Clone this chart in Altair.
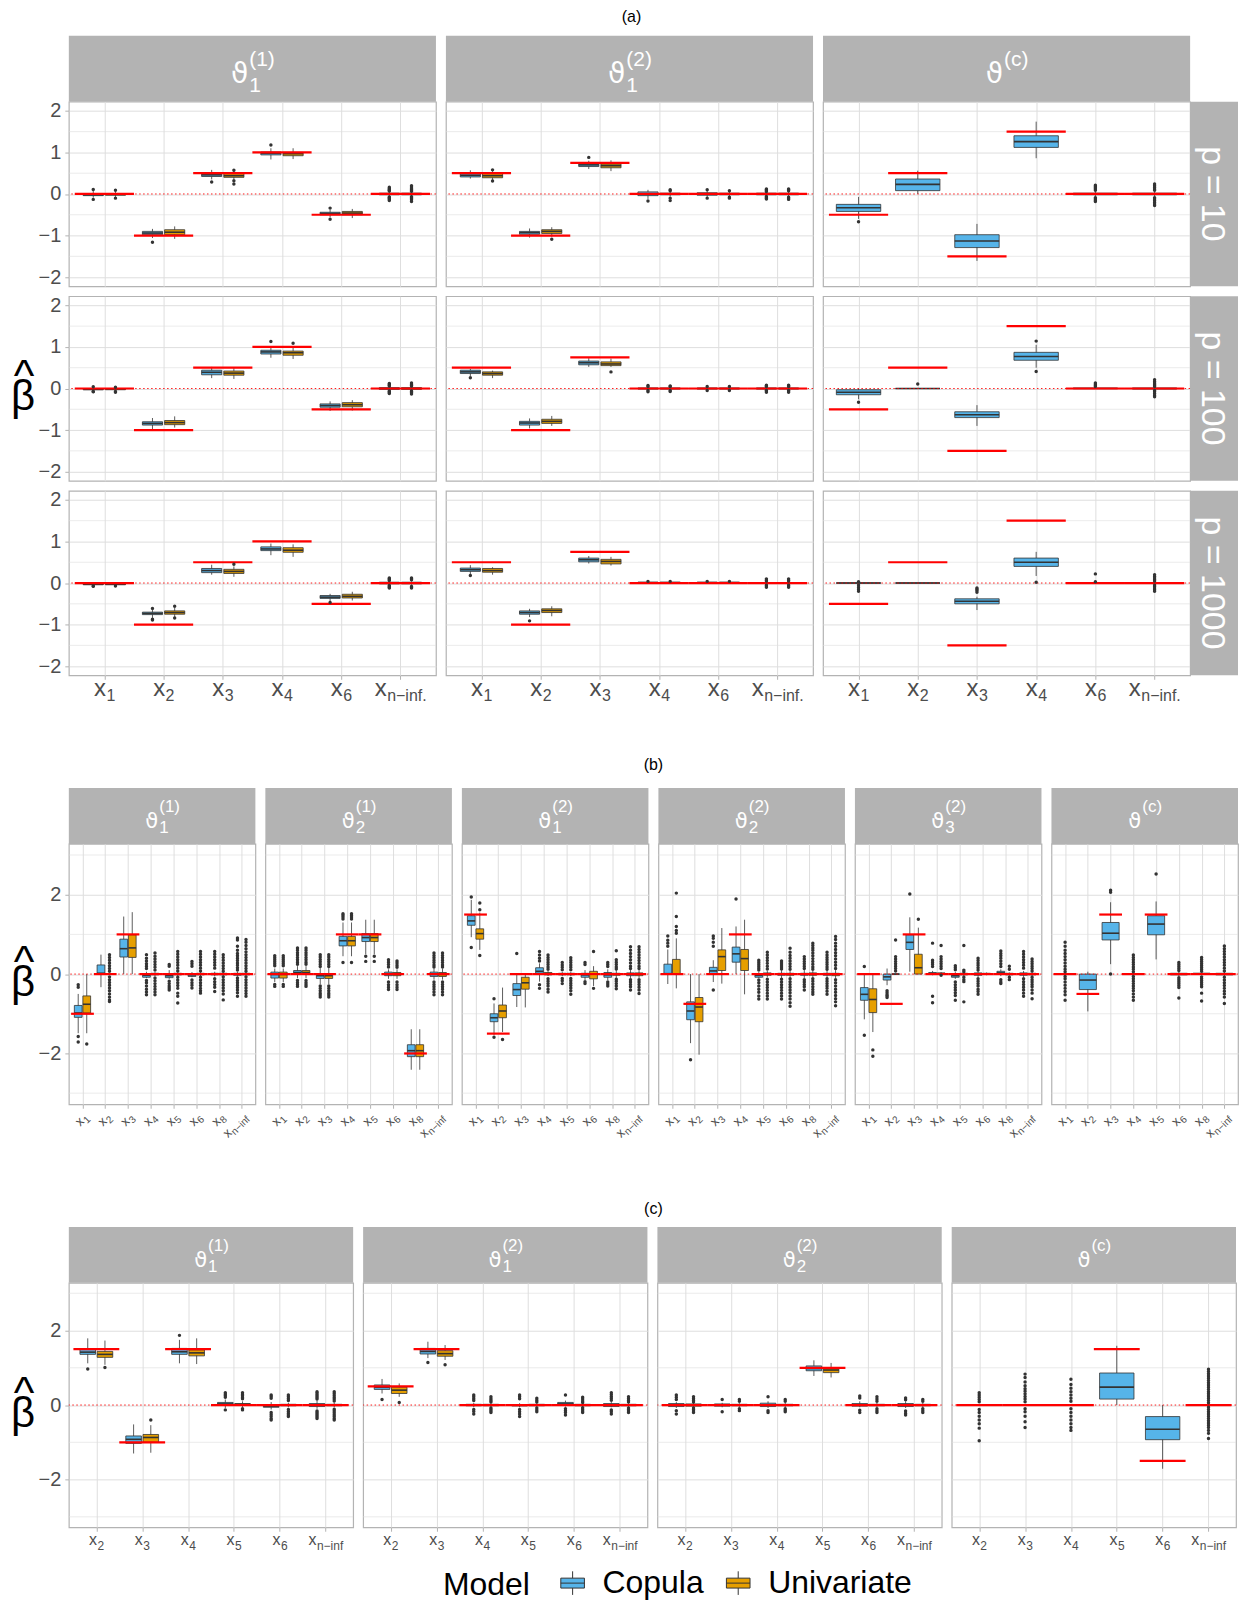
import altair as alt
import pandas as pd

FONT = "Liberation Sans"
MODELS = ["Copula", "Univariate"]
MODEL_COLORS = ["#56B4E9", "#E69F00"]

# ---------------------------------------------------------------- (a)
A_VARS = ["1", "2", "3", "4", "6", "n−inf."]
A_FACETS = [("1", "(1)"), ("1", "(2)"), ("", "(c)")]
A_ROWS = ["p = 10", "p = 100", "p = 1000"]
A_TRUE = [
    [0, -1, 0.5, 1, -0.5, 0],
    [0.5, -1, 0.75, 0, 0, 0],
    [-0.5, 0.5, -1.5, 1.5, 0, 0],
]
# (lower whisker, Q1, median, Q3, upper whisker, outliers) per covariate
A_BOXES = {
    ("p = 10", 0, "Copula"): [
        (-0.09, -0.04, -0.02, 0.01, 0.07, [0.11, -0.13]),
        (-1.06, -0.98, -0.94, -0.90, -0.84, [-1.16]),
        (0.35, 0.42, 0.46, 0.50, 0.58, [0.29]),
        (0.83, 0.94, 0.98, 1.01, 1.10, [1.18]),
        (-0.56, -0.50, -0.47, -0.44, -0.38, [-0.34, -0.61]),
        (-0.05, -0.02, 0.00, 0.02, 0.05, [0.16, 0.13, 0.11, 0.09, 0.07, -0.07, -0.09, -0.11, -0.13, -0.16]),
    ],
    ("p = 10", 0, "Univariate"): [
        (-0.07, -0.03, -0.01, 0.01, 0.06, [0.09, -0.10]),
        (-1.08, -0.98, -0.92, -0.86, -0.78, []),
        (0.36, 0.40, 0.44, 0.49, 0.55, [0.57, 0.32, 0.24]),
        (0.84, 0.92, 0.97, 1.00, 1.10, []),
        (-0.58, -0.50, -0.46, -0.42, -0.36, []),
        (-0.05, -0.02, 0.00, 0.02, 0.05, [0.20, 0.17, 0.14, 0.11, 0.08, 0.065, -0.065, -0.08, -0.11, -0.14, -0.18]),
    ],
    ("p = 10", 1, "Copula"): [
        (0.37, 0.41, 0.45, 0.49, 0.57, []),
        (-1.05, -0.97, -0.93, -0.90, -0.83, []),
        (0.60, 0.66, 0.70, 0.74, 0.80, [0.88]),
        (-0.12, -0.04, 0.00, 0.05, 0.10, [-0.17]),
        (-0.07, -0.03, 0.00, 0.03, 0.07, [0.10, -0.10]),
        (-0.05, -0.02, 0.00, 0.02, 0.05, [0.12, 0.10, 0.08, 0.06, -0.06, -0.08, -0.10, -0.12]),
    ],
    ("p = 10", 1, "Univariate"): [
        (0.33, 0.39, 0.44, 0.49, 0.55, [0.58, 0.31]),
        (-1.03, -0.95, -0.90, -0.86, -0.80, [-1.09]),
        (0.55, 0.63, 0.68, 0.72, 0.81, []),
        (-0.06, -0.02, 0.00, 0.02, 0.06, [0.10, 0.08, -0.10, -0.16]),
        (-0.06, -0.02, 0.00, 0.02, 0.06, [0.08, -0.08, -0.10]),
        (-0.05, -0.02, 0.00, 0.02, 0.05, [0.12, 0.10, 0.08, -0.08, -0.10, -0.13]),
    ],
    ("p = 10", 2, "Copula"): [
        (-0.60, -0.42, -0.33, -0.25, -0.07, [-0.67]),
        (0.00, 0.08, 0.23, 0.36, 0.56, []),
        (-1.61, -1.29, -1.13, -0.98, -0.72, []),
        (0.86, 1.12, 1.26, 1.40, 1.74, []),
        (-0.06, -0.02, 0.00, 0.02, 0.06, [0.21, 0.18, 0.15, 0.12, 0.09, -0.09, -0.12, -0.15, -0.18]),
        (-0.06, -0.02, 0.00, 0.02, 0.06, [0.24, 0.20, 0.16, 0.12, 0.09, -0.09, -0.12, -0.16, -0.20, -0.24, -0.28]),
    ],
    ("p = 100", 0, "Copula"): [
        (-0.05, -0.03, -0.02, 0.00, 0.02, [0.04, -0.07, -0.08]),
        (-0.98, -0.88, -0.84, -0.80, -0.71, []),
        (0.25, 0.33, 0.39, 0.44, 0.52, []),
        (0.74, 0.83, 0.88, 0.92, 1.02, [1.13]),
        (-0.54, -0.45, -0.41, -0.37, -0.31, []),
        (-0.04, -0.02, 0.00, 0.02, 0.04, [0.12, 0.10, 0.08, 0.06, -0.06, -0.08, -0.10, -0.12]),
    ],
    ("p = 100", 0, "Univariate"): [
        (-0.05, -0.03, -0.01, 0.00, 0.02, [0.03, -0.07, -0.09]),
        (-0.94, -0.87, -0.82, -0.77, -0.67, []),
        (0.23, 0.32, 0.37, 0.42, 0.49, []),
        (0.71, 0.80, 0.86, 0.90, 1.00, [1.09]),
        (-0.53, -0.44, -0.39, -0.34, -0.28, []),
        (-0.04, -0.02, 0.00, 0.02, 0.04, [0.13, 0.10, 0.08, 0.06, -0.06, -0.08, -0.10, -0.13]),
    ],
    ("p = 100", 1, "Copula"): [
        (0.30, 0.36, 0.40, 0.44, 0.47, [0.26]),
        (-0.96, -0.88, -0.83, -0.79, -0.72, []),
        (0.52, 0.57, 0.62, 0.66, 0.73, []),
        (-0.03, -0.01, 0.00, 0.01, 0.03, [0.07, 0.05, -0.05, -0.08]),
        (-0.03, -0.01, 0.00, 0.01, 0.03, [0.05, -0.05]),
        (-0.03, -0.01, 0.00, 0.01, 0.03, [0.08, 0.06, 0.05, -0.05, -0.06, -0.09]),
    ],
    ("p = 100", 1, "Univariate"): [
        (0.25, 0.32, 0.36, 0.40, 0.43, []),
        (-0.90, -0.84, -0.79, -0.74, -0.66, []),
        (0.52, 0.55, 0.59, 0.64, 0.72, [0.40]),
        (-0.03, -0.01, 0.00, 0.01, 0.03, [0.06, 0.05, -0.05, -0.07]),
        (-0.03, -0.01, 0.00, 0.01, 0.03, [0.05, -0.05]),
        (-0.03, -0.01, 0.00, 0.01, 0.03, [0.08, 0.06, 0.05, -0.05, -0.06, -0.09]),
    ],
    ("p = 100", 2, "Copula"): [
        (-0.26, -0.15, -0.09, -0.03, 0.00, [-0.33]),
        (0.00, 0.00, 0.00, 0.00, 0.00, [0.11]),
        (-0.90, -0.70, -0.63, -0.56, -0.40, []),
        (0.50, 0.68, 0.77, 0.87, 1.05, [1.14, 0.41]),
        (0.00, 0.00, 0.00, 0.01, 0.03, [0.13, 0.10, 0.07, 0.05]),
        (-0.03, -0.01, 0.00, 0.01, 0.03, [0.21, 0.17, 0.13, 0.10, 0.07, 0.05, -0.05, -0.08, -0.12, -0.16, -0.20]),
    ],
    ("p = 1000", 0, "Copula"): [
        (-0.05, -0.04, -0.03, -0.02, 0.00, [-0.07, -0.08]),
        (-0.84, -0.76, -0.73, -0.70, -0.64, [-0.61, -0.87, -0.89]),
        (0.20, 0.25, 0.30, 0.35, 0.44, []),
        (0.67, 0.78, 0.82, 0.87, 0.95, []),
        (-0.44, -0.37, -0.34, -0.30, -0.26, [-0.47]),
        (-0.04, -0.02, 0.00, 0.02, 0.04, [0.12, 0.10, 0.08, 0.06, -0.06, -0.08, -0.10, -0.12]),
    ],
    ("p = 1000", 0, "Univariate"): [
        (-0.05, -0.04, -0.03, -0.02, 0.00, [-0.07]),
        (-0.82, -0.75, -0.71, -0.67, -0.60, [-0.56, -0.84]),
        (0.15, 0.23, 0.28, 0.33, 0.40, [0.45]),
        (0.63, 0.74, 0.79, 0.85, 0.93, []),
        (-0.42, -0.36, -0.32, -0.27, -0.21, []),
        (-0.04, -0.02, 0.00, 0.02, 0.04, [0.12, 0.10, 0.08, -0.08, -0.10, -0.12]),
    ],
    ("p = 1000", 1, "Copula"): [
        (0.20, 0.28, 0.32, 0.36, 0.43, [0.18]),
        (-0.82, -0.75, -0.71, -0.67, -0.62, [-0.91]),
        (0.47, 0.51, 0.56, 0.60, 0.65, []),
        (0.00, 0.00, 0.01, 0.02, 0.03, [0.04]),
        (0.00, 0.00, 0.01, 0.02, 0.03, [0.04]),
        (-0.03, -0.01, 0.00, 0.01, 0.03, [0.10, 0.07, 0.05, -0.05, -0.07, -0.10]),
    ],
    ("p = 1000", 1, "Univariate"): [
        (0.20, 0.26, 0.30, 0.35, 0.38, []),
        (-0.80, -0.71, -0.66, -0.62, -0.56, []),
        (0.42, 0.46, 0.52, 0.57, 0.63, []),
        (0.00, 0.00, 0.01, 0.02, 0.03, [0.04]),
        (0.00, 0.00, 0.01, 0.02, 0.03, [0.04]),
        (-0.03, -0.01, 0.00, 0.01, 0.03, [0.10, 0.07, 0.05, -0.05, -0.07, -0.10]),
    ],
    ("p = 1000", 2, "Copula"): [
        (0.00, 0.00, 0.00, 0.00, 0.00, [0.03, -0.05, -0.10, -0.15, -0.20]),
        (0.00, 0.00, 0.00, 0.00, 0.00, []),
        (-0.65, -0.50, -0.44, -0.38, -0.33, [-0.12, -0.15, -0.18, -0.22]),
        (0.17, 0.40, 0.50, 0.60, 0.75, [0.02]),
        (0.00, 0.00, 0.00, 0.00, 0.00, [0.22, 0.03]),
        (-0.03, -0.01, 0.00, 0.01, 0.03, [0.20, 0.16, 0.12, 0.08, 0.05, -0.05, -0.08, -0.12, -0.16, -0.20]),
    ],
}

# ---------------------------------------------------------------- (b)
B_VARS = ["1", "2", "3", "4", "5", "6", "8", "n−inf"]
B_FACETS = [("1", "(1)"), ("2", "(1)"), ("1", "(2)"), ("2", "(2)"), ("3", "(2)"), ("", "(c)")]
B_TRUE = [
    [-1, 0, 1, 0, 0, 0, 0, 0],
    [0, 0, 0, 1, 1, 0, -2, 0],
    [1.5, -1.5, 0, 0, 0, 0, 0, 0],
    [0, -0.75, 0, 1, 0, 0, 0, 0],
    [0, -0.75, 1, 0, 0, 0, 0, 0],
    [0, -0.5, 1.5, 0, 1.5, 0, 0, 0],
]
B_BOXES = {
    (0, "Copula"): [
        (-1.49, -1.09, -0.98, -0.79, -0.50, [-0.27, -0.33, -1.57, -1.71]),
        (-0.33, 0.00, 0.02, 0.23, 0.49, []),
        (0.00, 0.43, 0.64, 0.88, 1.45, []),
        (-0.10, -0.08, -0.03, 0.00, 0.06, [0.49, 0.40, 0.33, 0.26, 0.20, 0.14, -0.16, -0.22, -0.30, -0.38, -0.45, -0.52]),
        (-0.12, -0.09, -0.04, 0.00, 0.10, [0.24, 0.20, -0.18, -0.24, -0.30, -0.35, -0.40]),
        (-0.08, -0.06, -0.02, 0.00, 0.05, [0.32, 0.26, 0.20, -0.15, -0.22, -0.28, -0.35]),
        (-0.06, -0.02, 0.00, 0.02, 0.06, [0.57, 0.50, 0.43, 0.36, 0.29, 0.22, 0.15, -0.12, -0.19, -0.26, -0.33, -0.44]),
        (-0.06, -0.03, 0.00, 0.02, 0.06, [0.91, 0.86, 0.70, 0.60, 0.52, 0.46, 0.40, 0.34, 0.28, 0.22, 0.16, 0.10, -0.10, -0.16, -0.22, -0.28, -0.34, -0.40, -0.47, -0.56]),
    ],
    (0, "Univariate"): [
        (-1.49, -0.98, -0.76, -0.55, 0.00, [-1.76]),
        (0.00, 0.00, 0.00, 0.00, 0.00, [0.49, 0.42, 0.35, 0.28, 0.21, 0.14, 0.07, -0.07, -0.14, -0.21, -0.28, -0.35, -0.42, -0.50, -0.58, -0.65, -0.69]),
        (0.00, 0.42, 0.66, 0.99, 1.56, []),
        (-0.05, -0.02, 0.00, 0.02, 0.05, [0.53, 0.45, 0.38, 0.31, 0.24, 0.17, 0.10, -0.10, -0.17, -0.24, -0.31, -0.38, -0.45, -0.52]),
        (-0.05, -0.02, 0.00, 0.02, 0.05, [0.57, 0.50, 0.43, 0.36, 0.29, 0.22, 0.15, 0.08, -0.08, -0.15, -0.22, -0.29, -0.36, -0.48, -0.56, -0.73]),
        (-0.05, -0.02, 0.00, 0.02, 0.05, [0.57, 0.50, 0.43, 0.36, 0.29, 0.22, 0.15, 0.08, -0.08, -0.15, -0.22, -0.29, -0.36, -0.42, -0.48]),
        (-0.05, -0.02, 0.00, 0.02, 0.05, [0.49, 0.42, 0.35, 0.28, 0.21, 0.14, 0.07, -0.07, -0.14, -0.21, -0.28, -0.35, -0.42, -0.50, -0.65]),
        (-0.05, -0.02, 0.00, 0.02, 0.05, [0.87, 0.80, 0.72, 0.64, 0.56, 0.49, 0.42, 0.35, 0.28, 0.21, 0.14, 0.07, -0.07, -0.14, -0.21, -0.28, -0.35, -0.42, -0.49, -0.56]),
    ],
    (1, "Copula"): [
        (-0.20, -0.10, -0.01, 0.05, 0.14, [0.46, 0.41, 0.36, 0.31, 0.26, 0.21, -0.26, -0.31]),
        (-0.10, 0.00, 0.04, 0.09, 0.20, [0.66, 0.60, 0.54, 0.48, 0.42, 0.36, 0.30, 0.25, -0.16, -0.22, -0.27, -0.31]),
        (-0.25, -0.11, -0.04, 0.00, 0.15, [0.49, 0.43, 0.37, 0.31, 0.25, 0.19, -0.30, -0.36, -0.42, -0.48, -0.53, -0.58]),
        (0.45, 0.71, 0.84, 0.95, 1.30, [1.52, 1.48, 1.44, 1.39, 0.29]),
        (0.50, 0.82, 0.92, 1.02, 1.37, [0.32, 0.45]),
        (-0.12, -0.04, 0.00, 0.05, 0.12, [0.36, 0.30, 0.24, 0.18, -0.20, -0.27, -0.33, -0.39]),
        (-2.41, -2.08, -1.93, -1.78, -1.39, []),
        (-0.14, -0.06, -0.01, 0.05, 0.14, [0.53, 0.47, 0.41, 0.35, 0.29, 0.23, 0.18, -0.20, -0.26, -0.32, -0.38, -0.45, -0.52]),
    ],
    (1, "Univariate"): [
        (-0.20, -0.10, -0.01, 0.05, 0.14, [0.46, 0.41, 0.36, 0.31, 0.26, 0.21, -0.26, -0.31]),
        (-0.10, 0.00, 0.04, 0.09, 0.20, [0.66, 0.60, 0.54, 0.48, 0.42, 0.36, 0.30, 0.25, -0.16, -0.22, -0.27, -0.31]),
        (-0.25, -0.11, -0.04, 0.00, 0.15, [0.49, 0.43, 0.37, 0.31, 0.25, 0.19, -0.30, -0.36, -0.42, -0.48, -0.53, -0.58]),
        (0.45, 0.71, 0.84, 0.95, 1.30, [1.52, 1.48, 1.44, 1.39, 0.29]),
        (0.50, 0.82, 0.92, 1.02, 1.37, [0.32, 0.45]),
        (-0.12, -0.04, 0.00, 0.04, 0.12, [0.33, 0.28, 0.22, 0.17, -0.20, -0.27, -0.33, -0.39]),
        (-2.41, -2.08, -1.93, -1.78, -1.39, []),
        (-0.14, -0.06, -0.01, 0.04, 0.14, [0.53, 0.47, 0.41, 0.35, 0.29, 0.23, 0.18, -0.20, -0.26, -0.32, -0.38, -0.45, -0.52]),
    ],
    (2, "Copula"): [
        (0.93, 1.23, 1.34, 1.47, 1.87, [1.94, 0.67]),
        (-1.54, -1.20, -1.10, -1.00, -0.74, [-0.62, -1.59]),
        (-0.83, -0.54, -0.39, -0.24, 0.00, [0.52]),
        (-0.19, 0.02, 0.07, 0.16, 0.27, [0.57, 0.48, 0.40, 0.33, -0.27, -0.36]),
        (-0.05, -0.02, 0.00, 0.02, 0.05, [0.29, 0.23, 0.17, 0.11, -0.11, -0.17, -0.24]),
        (-0.15, -0.08, -0.02, 0.02, 0.10, [0.29, 0.24, -0.19, -0.24]),
        (-0.15, -0.08, -0.02, 0.04, 0.12, [0.29, 0.24, 0.19, -0.20, -0.25, -0.30]),
        (-0.10, -0.04, 0.00, 0.03, 0.10, [0.69, 0.60, 0.52, 0.44, 0.36, 0.28, 0.20, 0.14, -0.14, -0.20, -0.26, -0.32, -0.40]),
    ],
    (2, "Univariate"): [
        (0.61, 0.88, 1.02, 1.14, 1.55, [1.79, 1.62, 0.47]),
        (-1.46, -1.10, -0.93, -0.78, -0.34, [-1.65]),
        (-0.84, -0.38, -0.22, -0.08, 0.00, []),
        (-0.05, -0.02, 0.00, 0.04, 0.08, [0.48, 0.42, 0.36, 0.30, 0.24, 0.18, 0.12, -0.12, -0.18, -0.24, -0.30, -0.38, -0.45]),
        (-0.05, -0.02, 0.00, 0.02, 0.05, [0.41, 0.35, 0.29, 0.23, 0.17, 0.11, -0.11, -0.17, -0.23, -0.29, -0.35, -0.42, -0.51]),
        (-0.30, -0.12, 0.00, 0.07, 0.20, [0.57, -0.36]),
        (-0.10, -0.03, 0.00, 0.02, 0.10, [0.59, 0.36, 0.30, 0.24, 0.18, 0.13, -0.13, -0.18, -0.24, -0.30, -0.37]),
        (-0.10, -0.04, 0.00, 0.03, 0.10, [0.69, 0.62, 0.55, 0.48, 0.41, 0.34, 0.27, 0.20, 0.14, -0.14, -0.20, -0.26, -0.33, -0.40, -0.49]),
    ],
    (3, "Copula"): [
        (-0.25, 0.00, 0.01, 0.25, 0.62, [0.96, 0.85, 0.78, 0.70]),
        (-1.74, -1.15, -0.93, -0.70, 0.00, [-2.16]),
        (-0.20, 0.00, 0.08, 0.17, 0.35, [0.96, 0.90, 0.80, 0.70, -0.40]),
        (0.00, 0.30, 0.51, 0.68, 1.20, [1.89]),
        (-0.10, -0.08, -0.03, 0.00, 0.05, [0.35, 0.30, 0.25, 0.20, 0.15, 0.10, -0.15, -0.22, -0.30, -0.38, -0.46, -0.55, -0.63]),
        (-0.10, -0.03, 0.00, 0.02, 0.10, [0.33, 0.28, 0.23, 0.18, 0.13, -0.13, -0.20, -0.27, -0.34, -0.41, -0.48, -0.55, -0.63]),
        (-0.10, -0.03, 0.00, 0.02, 0.10, [0.44, 0.38, 0.32, 0.26, 0.20, 0.14, -0.14, -0.20, -0.26, -0.32, -0.40]),
        (-0.10, -0.03, 0.00, 0.02, 0.10, [0.55, 0.48, 0.42, 0.36, 0.30, 0.24, 0.18, 0.12, -0.12, -0.18, -0.24, -0.30, -0.36, -0.43, -0.51]),
    ],
    (3, "Univariate"): [
        (-0.36, 0.00, 0.00, 0.37, 0.90, [2.04, 1.45, 1.20, 1.10, 1.03]),
        (-2.03, -1.20, -0.83, -0.59, 0.00, []),
        (-0.24, 0.09, 0.44, 0.61, 1.16, []),
        (-0.51, 0.09, 0.39, 0.62, 1.37, []),
        (-0.08, -0.03, 0.00, 0.03, 0.08, [0.55, 0.48, 0.41, 0.34, 0.27, 0.20, 0.13, -0.13, -0.20, -0.27, -0.34, -0.41, -0.48, -0.55, -0.63]),
        (-0.08, -0.03, 0.00, 0.02, 0.08, [0.65, 0.55, 0.47, 0.40, 0.33, 0.26, 0.19, 0.12, -0.12, -0.19, -0.26, -0.33, -0.40, -0.47, -0.55, -0.63, -0.72, -0.81]),
        (-0.08, -0.03, 0.00, 0.03, 0.08, [0.78, 0.72, 0.66, 0.60, 0.53, 0.46, 0.39, 0.32, 0.25, 0.18, 0.12, -0.12, -0.18, -0.25, -0.32, -0.39, -0.45, -0.51]),
        (-0.10, -0.04, 0.00, 0.02, 0.10, [0.95, 0.87, 0.78, 0.70, 0.62, 0.54, 0.46, 0.38, 0.30, 0.22, 0.14, -0.14, -0.22, -0.30, -0.38, -0.46, -0.54, -0.62, -0.70, -0.80]),
    ],
    (4, "Copula"): [
        (-1.14, -0.66, -0.51, -0.34, 0.00, [0.19, -1.54]),
        (-0.28, -0.15, -0.07, 0.00, 0.14, [-0.42, -0.47, -0.52, -0.55, -0.59]),
        (0.06, 0.62, 0.80, 0.99, 1.43, [2.02]),
        (-0.03, 0.00, 0.01, 0.04, 0.08, [0.78, 0.35, 0.30, 0.25, 0.19, -0.56, -0.72]),
        (-0.12, -0.08, -0.04, 0.00, 0.05, [0.21, 0.16, 0.11, -0.20, -0.27, -0.34, -0.40, -0.47, -0.54, -0.66]),
        (-0.08, -0.03, 0.00, 0.03, 0.08, [0.40, 0.34, 0.28, 0.22, 0.16, 0.10, -0.12, -0.18, -0.24, -0.30, -0.38, -0.44, -0.51]),
        (-0.05, 0.00, 0.03, 0.07, 0.12, [0.58, 0.52, 0.46, 0.40, 0.33, 0.26, 0.19, -0.14, -0.20, -0.24]),
        (-0.08, -0.03, 0.00, 0.03, 0.08, [0.57, 0.50, 0.43, 0.36, 0.29, 0.22, 0.15, -0.12, -0.19, -0.26, -0.33, -0.40, -0.48, -0.56]),
    ],
    (4, "Univariate"): [
        (-1.46, -0.97, -0.64, -0.37, 0.00, [-1.91, -2.07]),
        (0.00, 0.00, 0.00, 0.00, 0.00, [0.86, 0.44, 0.38, 0.32, 0.26, 0.20, 0.14, 0.08]),
        (0.00, 0.00, 0.16, 0.50, 1.17, [1.38]),
        (-0.02, 0.00, 0.01, 0.03, 0.05, [0.72, 0.44, 0.38, 0.32, 0.26, 0.20, 0.14, -0.03]),
        (-0.05, -0.02, 0.00, 0.02, 0.05, [0.72, 0.10, 0.06, -0.08, -0.14, -0.19, -0.70]),
        (-0.03, -0.01, 0.00, 0.02, 0.04, []),
        (-0.04, -0.02, 0.00, 0.02, 0.04, [0.20, 0.12, -0.08, -0.14]),
        (-0.06, -0.02, 0.00, 0.02, 0.06, [0.38, 0.32, 0.26, 0.20, 0.14, 0.08, -0.08, -0.14, -0.20, -0.26, -0.32, -0.40, -0.48, -0.62]),
    ],
    (5, "Copula"): [
        (0.00, 0.00, 0.00, 0.00, 0.00, [0.80, 0.70, 0.60, 0.52, 0.44, 0.36, 0.28, 0.20, 0.12, 0.06, -0.06, -0.12, -0.20, -0.28, -0.36, -0.44, -0.52, -0.66]),
        (-0.94, -0.39, -0.15, 0.00, 0.06, []),
        (0.25, 0.86, 1.03, 1.30, 1.81, [2.11, 2.06, 0.00]),
        (0.00, 0.00, 0.00, 0.00, 0.00, [0.48, 0.42, 0.36, 0.30, 0.24, 0.18, 0.12, 0.06, -0.06, -0.12, -0.18, -0.24, -0.30, -0.36, -0.42, -0.50, -0.58, -0.66]),
        (0.37, 0.99, 1.26, 1.47, 1.83, [2.52]),
        (-0.06, -0.02, 0.00, 0.02, 0.06, [0.29, 0.24, 0.19, 0.14, 0.09, -0.09, -0.14, -0.19, -0.24, -0.29, -0.34, -0.60]),
        (0.00, 0.00, 0.01, 0.02, 0.04, [0.42, 0.37, 0.32, 0.27, 0.22, 0.17, 0.12, 0.07, -0.07, -0.12, -0.17, -0.22, -0.27, -0.32, -0.48, -0.68]),
        (-0.06, -0.02, 0.00, 0.02, 0.06, [0.71, 0.64, 0.57, 0.50, 0.43, 0.36, 0.29, 0.22, 0.15, 0.08, -0.08, -0.15, -0.22, -0.29, -0.36, -0.43, -0.50, -0.58, -0.74]),
    ],
}

# ---------------------------------------------------------------- (c)
C_VARS = ["2", "3", "4", "5", "6", "n−inf"]
C_FACETS = [("1", "(1)"), ("1", "(2)"), ("2", "(2)"), ("", "(c)")]
C_TRUE = [
    [1.5, -1, 1.5, 0, 0, 0],
    [0.5, 1.5, 0, 0, 0, 0],
    [0, 0, 0, 1, 0, 0],
    [0, 0, 0, 1.5, -1.5, 0],
]
C_BOXES = {
    (0, "Copula"): [
        (1.12, 1.36, 1.42, 1.50, 1.79, [0.97]),
        (-1.30, -1.03, -0.92, -0.83, -0.52, []),
        (1.12, 1.36, 1.43, 1.52, 1.75, [1.87]),
        (-0.08, 0.00, 0.03, 0.07, 0.15, [0.33, 0.29, 0.25, 0.21, -0.13]),
        (-0.12, -0.06, -0.03, 0.00, 0.08, [0.27, 0.23, 0.18, -0.20, -0.25, -0.30, -0.36, -0.40]),
        (-0.10, -0.04, 0.00, 0.04, 0.12, [0.36, 0.32, 0.28, 0.24, 0.20, 0.16, -0.16, -0.20, -0.24, -0.28, -0.32, -0.36]),
    ],
    (0, "Univariate"): [
        (1.08, 1.28, 1.36, 1.44, 1.73, [1.01]),
        (-1.28, -1.00, -0.87, -0.79, -0.54, [-0.40]),
        (1.10, 1.32, 1.40, 1.48, 1.79, []),
        (-0.06, 0.00, 0.02, 0.04, 0.10, [0.33, 0.29, 0.25, 0.21, 0.17, -0.10, -0.13]),
        (-0.06, -0.02, 0.00, 0.02, 0.06, [0.27, 0.22, 0.17, 0.12, -0.12, -0.17, -0.22, -0.27, -0.31]),
        (-0.06, -0.02, 0.00, 0.02, 0.06, [0.36, 0.31, 0.26, 0.21, 0.16, 0.11, -0.11, -0.16, -0.21, -0.26, -0.31, -0.36, -0.40]),
    ],
    (1, "Copula"): [
        (0.31, 0.42, 0.48, 0.54, 0.70, [0.15]),
        (1.26, 1.37, 1.44, 1.52, 1.70, [1.14]),
        (-0.06, -0.02, 0.00, 0.02, 0.06, [0.27, 0.22, 0.17, 0.12, -0.12, -0.17, -0.24]),
        (-0.06, -0.02, -0.01, 0.00, 0.05, [0.27, 0.22, 0.17, -0.12, -0.18, -0.24, -0.31]),
        (-0.04, 0.00, 0.03, 0.07, 0.12, [0.27, -0.10, -0.15, -0.20, -0.27]),
        (-0.06, -0.04, 0.00, 0.04, 0.08, [0.33, 0.28, 0.23, 0.18, 0.13, -0.13, -0.18, -0.24]),
    ],
    (1, "Univariate"): [
        (0.22, 0.31, 0.40, 0.48, 0.58, [0.07]),
        (1.21, 1.31, 1.38, 1.46, 1.61, [1.08]),
        (-0.05, -0.02, 0.00, 0.02, 0.05, [0.22, 0.17, 0.12, 0.08, -0.08, -0.12, -0.16, -0.20]),
        (-0.05, -0.02, 0.00, 0.02, 0.05, [0.18, 0.13, 0.08, -0.08, -0.13, -0.18]),
        (-0.05, -0.02, 0.00, 0.02, 0.05, [0.21, 0.16, 0.11, 0.07, -0.07, -0.11, -0.16, -0.20]),
        (-0.05, -0.02, 0.00, 0.02, 0.05, [0.22, 0.17, 0.12, 0.08, -0.08, -0.12, -0.16, -0.20]),
    ],
    (2, "Copula"): [
        (-0.08, -0.04, 0.00, 0.04, 0.08, [0.27, 0.21, 0.15, -0.15, -0.24]),
        (-0.06, -0.03, 0.00, 0.03, 0.06, [0.15, -0.18]),
        (-0.08, -0.04, 0.00, 0.05, 0.10, [0.22, -0.15, -0.20]),
        (0.78, 0.92, 0.98, 1.05, 1.20, []),
        (-0.06, -0.03, 0.00, 0.04, 0.10, [0.24, 0.19, -0.14, -0.20]),
        (-0.08, -0.04, 0.00, 0.04, 0.10, [0.19, 0.14, -0.16, -0.22, -0.27]),
    ],
    (2, "Univariate"): [
        (-0.06, -0.03, 0.00, 0.03, 0.06, [0.22, 0.17, 0.12, 0.08, -0.08, -0.12, -0.16, -0.20]),
        (-0.05, -0.02, 0.00, 0.02, 0.05, [0.15, 0.10, -0.10, -0.15]),
        (-0.06, -0.02, 0.00, 0.02, 0.06, [0.15, 0.10, -0.10, -0.14, -0.18]),
        (0.74, 0.87, 0.94, 1.00, 1.13, []),
        (-0.06, -0.02, 0.00, 0.02, 0.06, [0.22, 0.16, 0.10, -0.10, -0.15, -0.20]),
        (-0.06, -0.02, 0.00, 0.02, 0.06, [0.15, 0.10, -0.10, -0.15, -0.20]),
    ],
    (3, "Copula"): [
        (0.00, 0.00, 0.00, 0.00, 0.00, [0.33, 0.27, 0.21, 0.15, 0.09, -0.12, -0.20, -0.30, -0.40, -0.50, -0.62, -0.96]),
        (0.00, 0.00, 0.00, 0.00, 0.00, [0.83, 0.74, 0.62, 0.52, 0.44, 0.37, 0.30, 0.23, 0.16, 0.09, -0.10, -0.18, -0.30, -0.45, -0.60]),
        (0.00, 0.00, 0.00, 0.00, 0.00, [0.69, 0.55, 0.45, 0.36, 0.27, 0.18, 0.10, -0.10, -0.20, -0.30, -0.40, -0.50, -0.60, -0.68]),
        (0.00, 0.16, 0.48, 0.86, 1.59, []),
        (-1.71, -0.93, -0.65, -0.31, 0.00, []),
        (0.00, 0.00, 0.00, 0.00, 0.00, [0.96, 0.90, 0.84, 0.78, 0.72, 0.66, 0.60, 0.54, 0.48, 0.42, 0.36, 0.30, 0.24, 0.18, 0.12, 0.06, -0.06, -0.12, -0.18, -0.24, -0.30, -0.36, -0.42, -0.48, -0.54, -0.60, -0.68, -0.76, -0.90]),
    ],
}

# ---------------------------------------------------------------- styling
GRID = "#dedede"
EDGE = "#b3b3b3"
INK = "#333333"
LABEL = "#4d4d4d"
LEFT = 68          # room kept left of the first panel column for tick labels and the β̂ title
CHAR_W = {"−": 0.584, "i": 0.222, "f": 0.278, ".": 0.278, "(": 0.333, ")": 0.333, "c": 0.5}

FILL_SCALE = alt.Scale(domain=MODELS, range=MODEL_COLORS)
GLYPH = "M-1,-0.42H1V0.42H-1Z M-1,0H1 M0,-0.42V-1 M0,0.42V1"
LEGEND = alt.Legend(
    orient="none", legendX=489, legendY=1569, direction="horizontal", title=None,
    labelFont=FONT, labelFontSize=32, labelColor="black", labelOffset=14,
    columnPadding=18, padding=0, symbolType=GLYPH, symbolSize=560,
    symbolStrokeColor=INK, symbolStrokeWidth=1,
)

LAB_A = dict(fx=24, fs=16, rot=False, gap=21, drop=5)
LAB_B = dict(fx=13, fs=10, rot=True, gap=7, drop=3)
LAB_C = dict(fx=16, fs=12, rot=False, gap=18, drop=5)
STRIP_A = dict(h=66, fm=28, fsc=21, ym=47, ysup=30, ysub=56)
STRIP_BC = dict(h=56, fm=21, fsc=17, ym=40, ysup=24, ysub=45)


def text_w(s, fs):
    return sum(CHAR_W.get(ch, 0.556) for ch in s) * fs


def one():
    return alt.Chart(pd.DataFrame({"k": [0]}))


def x_labels(subs, X, h, lab):
    fx, fs = lab["fx"], lab["fs"]
    df = pd.DataFrame({"i": range(1, len(subs) + 1), "sub": subs})
    df["ws"] = [round(text_w(s, fs), 1) for s in subs]
    out = []
    for ws, g in df.groupby("ws"):
        g = g[["i", "sub"]]
        y0 = alt.value(h + lab["gap"])
        if lab["rot"]:
            asc = 0.72 * fx
            out.append(alt.Chart(g).mark_text(
                text="x", angle=315, align="right", baseline="alphabetic", dx=-(ws + 0.5), dy=asc,
                fontSize=fx, font=FONT, color=LABEL).encode(x=X("i"), y=y0))
            out.append(alt.Chart(g).mark_text(
                angle=315, align="right", baseline="alphabetic", dx=0, dy=asc + lab["drop"],
                fontSize=fs, font=FONT, color=LABEL).encode(x=X("i"), y=y0, text="sub:N"))
        else:
            split = (0.5 * fx - ws) / 2
            out.append(alt.Chart(g).mark_text(
                text="x", align="right", baseline="alphabetic", dx=split,
                fontSize=fx, font=FONT, color=LABEL).encode(x=X("i"), y=y0))
            out.append(alt.Chart(g).mark_text(
                align="left", baseline="alphabetic", dx=split + 0.5, dy=lab["drop"],
                fontSize=fs, font=FONT, color=LABEL).encode(x=X("i"), y=y0, text="sub:N"))
    return out


def beta_marks(h):
    return [
        one().mark_text(text="β", fontSize=42, font=FONT, color="black", align="center",
                        baseline="alphabetic").encode(x=alt.value(-46), y=alt.value(h / 2 + 22)),
        one().mark_text(text="^", fontSize=44, font=FONT, color="black", align="center",
                        baseline="alphabetic").encode(x=alt.value(-45), y=alt.value(h / 2 + 3)),
    ]


def strip_marks(w, sub, sup, st):
    """Grey facet header drawn just above the panel."""
    fm, fsc, hs = st["fm"], st["fsc"], st["h"]
    wt = 0.62 * fm
    wsc = max(text_w(sub, fsc), text_w(sup, fsc))
    left = w / 2 - (wt + wsc) / 2
    marks = [
        one().mark_rect(color=EDGE).encode(x=alt.value(0), x2=alt.value(w), y=alt.value(-hs), y2=alt.value(0)),
        one().mark_text(text="ϑ", font="DejaVu Sans", fontSize=fm, color="white", align="left",
                        baseline="alphabetic").encode(x=alt.value(left), y=alt.value(st["ym"] - hs)),
        one().mark_text(text=sup, font=FONT, fontSize=fsc, color="white", align="left",
                        baseline="alphabetic").encode(x=alt.value(left + wt + 1), y=alt.value(st["ysup"] - hs)),
    ]
    if sub:
        marks.append(one().mark_text(text=sub, font=FONT, fontSize=fsc, color="white", align="left",
                                     baseline="alphabetic").encode(x=alt.value(left + wt + 1),
                                                                   y=alt.value(st["ysub"] - hs)))
    return marks


def side_marks(w, h, label):
    """Grey row header drawn to the right of the panel."""
    return [
        one().mark_rect(color=EDGE).encode(x=alt.value(w), x2=alt.value(w + 48), y=alt.value(0), y2=alt.value(h)),
        one().mark_text(text=label, angle=90, align="center", baseline="middle", fontSize=34,
                        font=FONT, color="white").encode(x=alt.value(w + 22), y=alt.value(h / 2)),
    ]


def anchor(x, y):
    return one().mark_rule(opacity=0).encode(x=alt.value(x), x2=alt.value(x + 2), y=alt.value(y))


def panel(stats, truth, subs, w, h, ydom, ymaj, ymin, left, bottom, lab,
          beta=False, head=None, side=None, foot=0):
    n = len(truth)
    models = [m for m in MODELS if m in stats]
    dodge = len(models) > 1
    hw = 0.17 if dodge else 0.375
    boxes, dots = [], []
    for k, m in enumerate(models):
        off = (k - 0.5) * 0.375 if dodge else 0.0
        for i, (lo, q1, md, q3, hi, outs) in enumerate(stats[m], start=1):
            c = i + off
            boxes.append(dict(model=m, c=c, l=c - hw, r=c + hw, lo=lo, q1=q1, md=md, q3=q3, hi=hi))
            dots += [dict(model=m, c=c, v=o) for o in outs]
    bx = pd.DataFrame(boxes)
    dt = pd.DataFrame(dots, columns=["model", "c", "v"])
    tr = pd.DataFrame({"i": range(1, n + 1), "v": truth})
    tr["l"] = tr["i"] - 0.5
    tr["r"] = tr["i"] + 0.5

    xs = alt.Scale(domain=[0.4, n + 0.6], nice=False, zero=False)
    ys = alt.Scale(domain=ydom, nice=False, zero=False)
    xax = alt.Axis(values=list(range(1, n + 1)), title=None, labels=False, domain=False,
                   ticks=bottom, tickSize=4, tickColor=EDGE, tickWidth=1,
                   grid=True, gridColor=GRID, gridWidth=1)
    yax = alt.Axis(values=ymaj, title=None, labels=left, domain=False, ticks=left, tickSize=4,
                   tickColor=EDGE, tickWidth=1, grid=True, gridColor=GRID, gridWidth=1,
                   labelFont=FONT, labelFontSize=20, labelColor=LABEL, labelPadding=4)

    def X(f):
        return alt.X(f, type="quantitative", scale=xs, axis=xax)

    def Y(f):
        return alt.Y(f, type="quantitative", scale=ys, axis=yax)

    layers = [
        alt.Chart(pd.DataFrame({"v": ymin})).mark_rule(color=GRID, strokeWidth=0.6).encode(y=Y("v")),
        alt.Chart(bx).mark_rule(color=INK, strokeWidth=0.8).encode(x=X("c"), y=Y("lo"), y2="hi"),
        alt.Chart(bx).mark_rect(stroke=INK, strokeWidth=0.8).encode(
            x=X("l"), x2="r", y=Y("q1"), y2="q3",
            fill=alt.Fill("model:N", scale=FILL_SCALE, legend=LEGEND)),
        alt.Chart(bx).mark_rule(color=INK, strokeWidth=1.6).encode(x=X("l"), x2="r", y=Y("md")),
        alt.Chart(pd.DataFrame({"v": [0]})).mark_rule(
            color="#ff0000", strokeWidth=0.9, strokeDash=[1.5, 2.5]).encode(y=Y("v")),
        alt.Chart(tr).mark_rule(color="#ff0000", strokeWidth=2.2).encode(x=X("l"), x2="r", y=Y("v")),
        alt.Chart(dt).mark_circle(color=INK, size=12, opacity=1).encode(x=X("c"), y=Y("v")),
    ]
    if bottom:
        layers += x_labels(subs, X, h, lab)
    if beta:
        layers += beta_marks(h)
    if head:
        layers += strip_marks(w, *head)
    if side:
        layers += side_marks(w, h, side)
    if left:
        layers.append(anchor(-LEFT, 0))
    if foot:
        layers.append(anchor(0, h + foot))
    return alt.layer(*layers).properties(
        width=w, height=h, view=alt.ViewBackground(stroke=EDGE, strokeWidth=1.2))


def title_chart(label, w, h, cx, cy):
    return alt.layer(
        alt.Chart(pd.DataFrame({"t": [label]})).mark_text(
            fontSize=16, font=FONT, color="black", baseline="middle").encode(
            x=alt.value(cx), y=alt.value(cy), text="t:N"),
        anchor(-LEFT, 0),
    ).properties(width=w, height=h)


def footer(w, h):
    return alt.layer(
        alt.Chart(pd.DataFrame({"t": ["Model"]})).mark_text(
            fontSize=32, font=FONT, color="black", align="left", baseline="middle").encode(
            x=alt.value(375), y=alt.value(17), text="t:N"),
        anchor(-LEFT, 0),
    ).properties(width=w, height=h)


# ---------------------------------------------------------------- sections
def section_a():
    W, H = 368, 185
    ps = []
    for r, row in enumerate(A_ROWS):
        for f in range(3):
            stats = {m: A_BOXES[(row, f, m)] for m in MODELS if (row, f, m) in A_BOXES}
            ps.append(panel(
                stats, A_TRUE[f], A_VARS, W, H, [-2.22, 2.22], [-2, -1, 0, 1, 2], [-1.5, -0.5, 0.5, 1.5],
                left=(f == 0), bottom=(r == 2), lab=LAB_A, beta=(f == 0 and r == 1),
                head=(A_FACETS[f][0], A_FACETS[f][1], STRIP_A) if r == 0 else None,
                side=row if f == 2 else None, foot=40 if (r == 2 and f == 0) else 0))
    return alt.concat(*ps, columns=3, spacing=10, bounds="flush")


def section_row(facets, truths, boxes, vars_, W, H, lab, foot):
    ps = []
    for f in range(len(facets)):
        stats = {m: boxes[(f, m)] for m in MODELS if (f, m) in boxes}
        ps.append(panel(
            stats, truths[f], vars_, W, H, [-3.28, 3.28], [-2, 0, 2], [-3, -1, 1, 3],
            left=(f == 0), bottom=True, lab=lab, beta=(f == 0),
            head=(facets[f][0], facets[f][1], STRIP_BC), foot=foot if f == 0 else 0))
    return alt.hconcat(*ps, spacing=10, bounds="flush")


chart = alt.vconcat(
    title_chart("(a)", 1172, 33, 564, 15),
    section_a(),
    title_chart("(b)", 1172, 71, 586, 49),
    section_row(B_FACETS, B_TRUE, B_BOXES, B_VARS, 187, 261, LAB_B, 45),
    title_chart("(c)", 1172, 76, 586, 59),
    section_row(C_FACETS, C_TRUE, C_BOXES, C_VARS, 285, 245, LAB_C, 40),
    footer(1172, 35),
    spacing=0,
).properties(padding=0, background="white").configure_view(strokeWidth=0)

chart.save("out.html", embed_options={"renderer": "svg", "actions": False})
